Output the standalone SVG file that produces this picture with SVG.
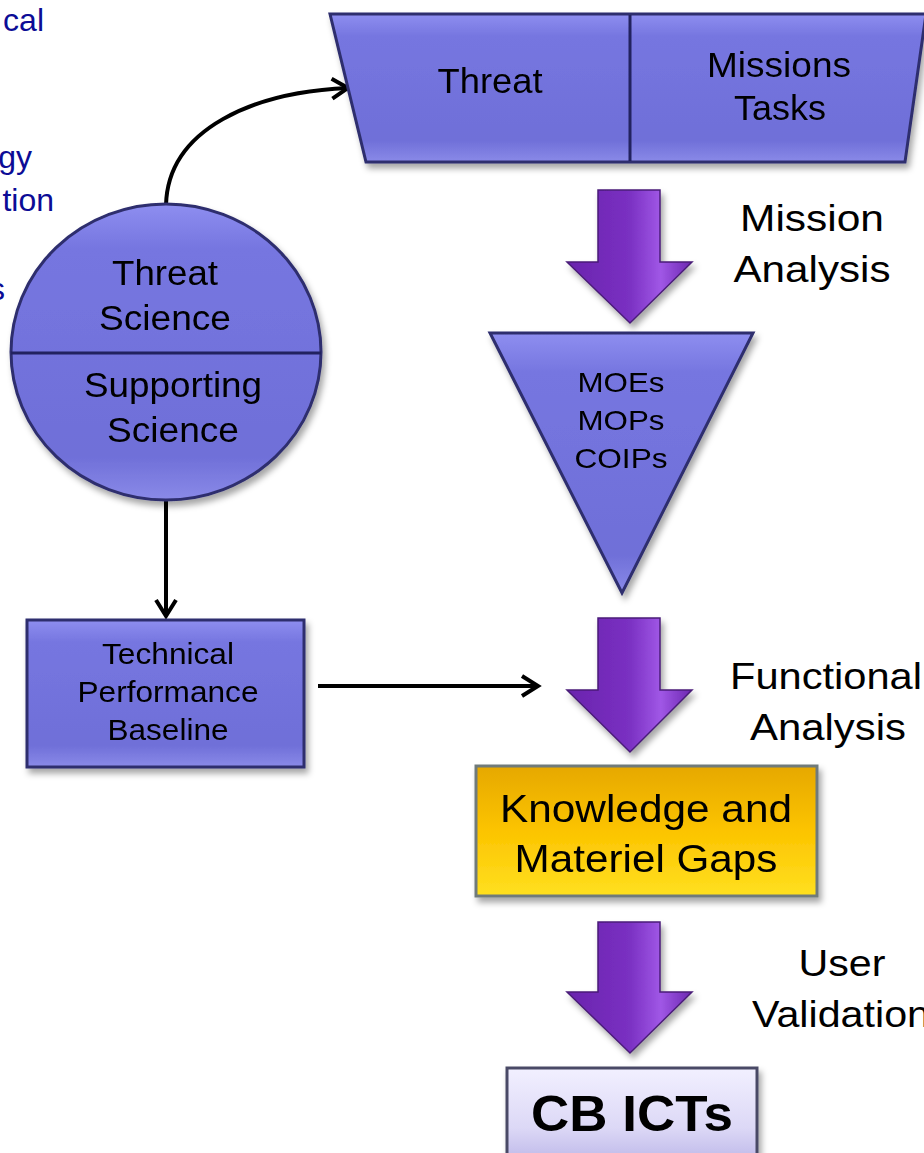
<svg xmlns="http://www.w3.org/2000/svg" width="924" height="1153" viewBox="0 0 924 1153">
<style>
.lbl{font-family:"Liberation Sans",Arial,sans-serif;fill:#000;text-anchor:middle}
.st{text-anchor:start}
.side{font-family:"Liberation Sans",Arial,sans-serif;fill:#0c0c96;font-size:32px}
.node{fill:url(#blueG);stroke:#2e2e6e;stroke-width:3}
.div{stroke:#23235e;stroke-width:3}
.conn{fill:none;stroke:#000;stroke-width:4}
.barrow{fill:url(#purpG);stroke:#4a1d78;stroke-width:1.5}
</style>
<defs>
<linearGradient id="blueG" x1="0" y1="0" x2="0" y2="1">
<stop offset="0" stop-color="#8e8ef0"/>
<stop offset="0.15" stop-color="#7676e0"/>
<stop offset="0.85" stop-color="#6f6fd8"/>
<stop offset="1" stop-color="#8a8ae8"/>
</linearGradient>
<linearGradient id="purpG" x1="0" y1="0" x2="1" y2="0">
<stop offset="0" stop-color="#6a24ad"/>
<stop offset="0.5" stop-color="#7a30c2"/>
<stop offset="0.75" stop-color="#a057e6"/>
<stop offset="1" stop-color="#6c27b0"/>
</linearGradient>
<linearGradient id="goldG" x1="0" y1="0" x2="0" y2="1">
<stop offset="0" stop-color="#e6a800"/>
<stop offset="0.5" stop-color="#fcc400"/>
<stop offset="1" stop-color="#ffe020"/>
</linearGradient>
<linearGradient id="lavG" x1="0" y1="0" x2="0" y2="1">
<stop offset="0" stop-color="#f2f0ff"/>
<stop offset="0.6" stop-color="#dcd8f6"/>
<stop offset="1" stop-color="#b8b2e6"/>
</linearGradient>
<filter id="sh" x="-10%" y="-10%" width="125%" height="130%">
<feDropShadow dx="3" dy="5" stdDeviation="3" flood-color="#000" flood-opacity="0.35"/>
</filter>
<marker id="ah2" markerWidth="24" markerHeight="24" refX="20" refY="12" orient="auto" markerUnits="userSpaceOnUse" viewBox="0 0 24 24">
<path d="M4,2 L20,12 L4,22" fill="none" stroke="#000" stroke-width="4"/>
</marker>
</defs>

<g id="side-text">
<text class="side" x="44" y="31" text-anchor="end">cal</text>
<text class="side" x="32" y="168" text-anchor="end">gy</text>
<text class="side" x="54" y="211" text-anchor="end">tion</text>
<text class="side" x="5" y="300" text-anchor="end">s</text>
</g>

<g id="connectors">
<path class="conn" d="M166,205 C168,128 255,92 348,88" marker-end="url(#ah2)"/>
<path class="conn" d="M166,498 L166,616" marker-end="url(#ah2)"/>
<path class="conn" d="M318,686 L538,686" marker-end="url(#ah2)"/>
</g>

<g id="threat-missions" filter="url(#sh)">
<polygon class="node" points="330,14 926,14 905,162 366,162"/>
<line class="div" x1="630" y1="15" x2="630" y2="161"/>
<text class="lbl" x="490" y="93" font-size="35" textLength="105" lengthAdjust="spacingAndGlyphs">Threat</text>
<text class="lbl" x="779" y="77" font-size="35" textLength="144" lengthAdjust="spacingAndGlyphs">Missions</text>
<text class="lbl" x="780" y="120" font-size="35" textLength="92" lengthAdjust="spacingAndGlyphs">Tasks</text>
</g>

<g id="science-circle" filter="url(#sh)">
<ellipse class="node" cx="166" cy="352" rx="155" ry="148"/>
<line class="div" x1="11" y1="353" x2="321" y2="353"/>
<text class="lbl" x="165" y="285" font-size="35" textLength="106" lengthAdjust="spacingAndGlyphs">Threat</text>
<text class="lbl" x="165" y="330" font-size="35" textLength="132" lengthAdjust="spacingAndGlyphs">Science</text>
<text class="lbl" x="173" y="397" font-size="35" textLength="178" lengthAdjust="spacingAndGlyphs">Supporting</text>
<text class="lbl" x="173" y="442" font-size="35" textLength="132" lengthAdjust="spacingAndGlyphs">Science</text>
</g>

<g id="arrow-mission" filter="url(#sh)">
<polygon class="barrow" points="598,190 660,190 660,262 692,262 630,323 567,262 598,262"/>
</g>
<g id="label-mission">
<text class="lbl" x="812" y="231" font-size="37" textLength="144" lengthAdjust="spacingAndGlyphs">Mission</text>
<text class="lbl" x="812" y="282" font-size="37" textLength="157" lengthAdjust="spacingAndGlyphs">Analysis</text>
</g>

<g id="moe-triangle" filter="url(#sh)">
<polygon class="node" points="490,333 753,333 622,593"/>
<text class="lbl" x="621" y="392" font-size="28" textLength="87" lengthAdjust="spacingAndGlyphs">MOEs</text>
<text class="lbl" x="621" y="430" font-size="28" textLength="87" lengthAdjust="spacingAndGlyphs">MOPs</text>
<text class="lbl" x="621" y="468" font-size="28" textLength="93" lengthAdjust="spacingAndGlyphs">COIPs</text>
</g>

<g id="tpb-box" filter="url(#sh)">
<rect class="node" x="27" y="620" width="277" height="147"/>
<text class="lbl" x="168" y="664" font-size="29" textLength="132" lengthAdjust="spacingAndGlyphs">Technical</text>
<text class="lbl" x="168" y="702" font-size="29" textLength="181" lengthAdjust="spacingAndGlyphs">Performance</text>
<text class="lbl" x="168" y="740" font-size="29" textLength="121" lengthAdjust="spacingAndGlyphs">Baseline</text>
</g>

<g id="arrow-functional" filter="url(#sh)">
<polygon class="barrow" points="598,618 660,618 660,690 692,690 630,752 567,690 598,690"/>
</g>
<g id="label-functional">
<text class="lbl st" x="730" y="689" font-size="37" textLength="192" lengthAdjust="spacingAndGlyphs">Functional</text>
<text class="lbl" x="828" y="740" font-size="37" textLength="156" lengthAdjust="spacingAndGlyphs">Analysis</text>
</g>

<g id="gaps-box" filter="url(#sh)">
<rect x="476" y="766" width="341" height="130" fill="url(#goldG)" stroke="#6f7a7a" stroke-width="3"/>
<text class="lbl" x="646" y="822" font-size="39" textLength="292" lengthAdjust="spacingAndGlyphs">Knowledge and</text>
<text class="lbl" x="646" y="872" font-size="39" textLength="263" lengthAdjust="spacingAndGlyphs">Materiel Gaps</text>
</g>

<g id="arrow-user" filter="url(#sh)">
<polygon class="barrow" points="598,922 660,922 660,992 692,992 630,1053 567,992 598,992"/>
</g>
<g id="label-user">
<text class="lbl" x="842" y="976" font-size="37" textLength="87" lengthAdjust="spacingAndGlyphs">User</text>
<text class="lbl st" x="752" y="1027" font-size="37" textLength="178" lengthAdjust="spacingAndGlyphs">Validation</text>
</g>

<g id="cbicts-box" filter="url(#sh)">
<rect x="507" y="1068" width="250" height="100" fill="url(#lavG)" stroke="#4a4a66" stroke-width="3"/>
<text class="lbl" x="632" y="1131" font-size="50" font-weight="bold" textLength="202" lengthAdjust="spacingAndGlyphs">CB ICTs</text>
</g>
</svg>
